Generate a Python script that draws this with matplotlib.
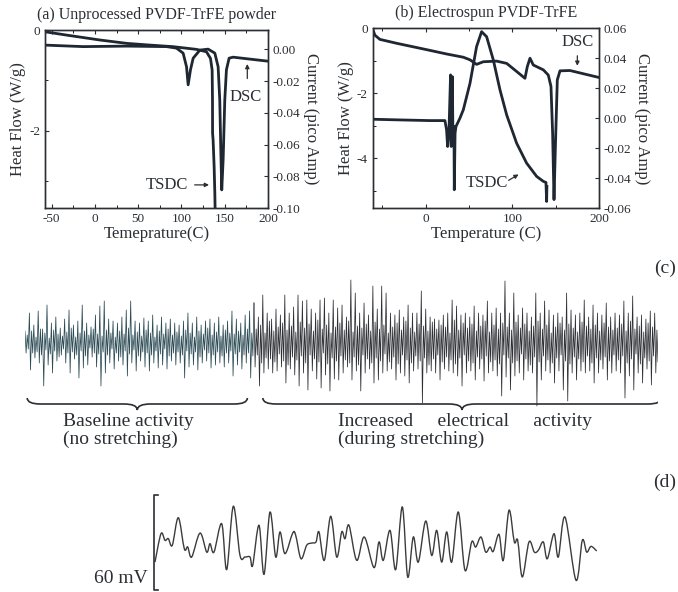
import numpy as np
import matplotlib.pyplot as plt
from matplotlib.path import Path
from matplotlib.patches import PathPatch

plt.rcParams['font.family'] = ['Liberation Serif', 'DejaVu Serif']
plt.rcParams['axes.unicode_minus'] = False

INK = '#2b2e33'
LINE = '#1f2733'

# (a) unprocessed powder
temp_a_dsc = [-57.7, -13.5, 36.5, 82.7, 94.2, 101.9, 105.8, 107.7, 110.4, 113.5, 121.2,
              130.8, 138.5, 142.3, 144.2, 145.4, 146.5, 148.1, 150.0, 151.9, 155.0, 159.6, 200.0]
heat_a_dsc = [-0.30, -0.33, -0.32, -0.33, -0.36, -0.46, -0.73, -1.09, -0.79, -0.56, -0.40,
              -0.38, -0.46, -0.73, -1.39, -2.38, -3.18, -2.58, -1.39, -0.79, -0.56, -0.54, -0.62]
temp_a_tsdc = [-57.7, -32.7, 5.8, 36.5, 63.5, 90.4, 117.3, 128.8, 133.5, 135.4, 135.8,
               135.9, 136.5, 137.7, 138.5, 138.8]
curr_a_tsdc = [0.0111, 0.0090, 0.0059, 0.0038, 0.0027, 0.0017, 0.0, -0.0015, -0.0057, -0.0130,
               -0.0319, -0.0528, -0.0570, -0.0738, -0.0906, -0.1]

# (b) electrospun
temp_b_dsc = [-61.2, -58.5, -52.7, -33.5, 0, 24.2, 43.5, 51.2, 58.8, 66.5, 81.9, 93.5, 105,
              114.6, 117.3, 120.4, 124.2, 135.8, 141.5, 144.6, 146.5, 148.1, 149.6, 151.9,
              155, 166.5, 199.2]
heat_b_dsc = [0, -0.21, -0.34, -0.46, -0.65, -0.79, -0.89, -0.97, -1.11, -1.03, -1.01, -1.08,
              -1.33, -1.54, -1.18, -0.92, -1.13, -1.28, -1.44, -1.79, -3.23, -5.28, -3.74,
              -1.59, -1.31, -1.30, -1.51]
temp_b_tsdc = [-61.2, -33.5, 5, 22.3, 24.2, 25.4, 26.9, 28.8, 29.6, 30.8, 31.6, 32.7, 33.1,
               34.0, 35, 39.6, 43.5, 51.2, 58.8, 64.6, 70.4, 78.1, 85.8, 93.5, 105, 116.5,
               128.1, 135.8, 138.8, 139.6, 139.9]
curr_b_tsdc = [-0.0007, -0.0011, -0.0016, -0.0016, -0.0078, -0.0189, -0.0100, 0.0289,
               -0.0189, 0.0278, -0.0144, -0.0056, -0.0478, -0.0100, -0.0056, 0.0, 0.0056,
               0.0233, 0.0478, 0.0578, 0.0544, 0.0389, 0.0189, 0.0022, -0.0167, -0.0300,
               -0.0389, -0.0422, -0.0429, -0.0556, -0.0456]

# (c) recorded activity (arb. units): large excursions and the dense core in between
spikes_c = [
    12, -10, 30, -27, 18, -15, 32, -20, 14, -43, 38, -22, 20, -30, 26, -18, 15, -12, 24, -20,
    33, -30, 18, -16, 22, -35, 38, -25, 20, -22, 16, -14, 28, -24, 37, -43, 42, -30, 24, -20,
    22, -26, 20, -18, 26, -22, 33, -33, 42, -20, 22, -28, 20, -18, 25, -24, 22, -28, 28, -20,
    18, -25, 26, -22, 20, -26, 24, -18, 20, -22,
    18, -20, 22, -35, 30, -24, 20, -22, 26, -27, 18, -20, 22, -18, 24, -25, 20, -22, 26, -20,
    18, -24, 22, -20, 32, -33, 24, -22, 20, -26, 28, -20, 32, -35, 40, -24, 26, -43, 48, -30,
    30, -26, 24, -30, 34, -28, 28, -24, 48, -40, 30, -26, 36, -32, 48, -43, 42, -30, 43, -47,
    34, -28, 30, -36, 43, -45, 45, -32, 30, -48, 43, -36, 35, -37,
    38, -30, 26, -24, 63, -37, 50, -28, 30, -48, 40, -30, 28, -26, 57, -40, 34, -37, 57, -30,
    50, -28, 30, -26, 28, -37, 33, -30, 26, -33, 38, -40, 30, -28, 30, -26, 52, -60, 34, -30,
    26, -28, 24, -30, 23, -37, 28, -26, 30, -28, 43, -30, 37, -33, 28, -43, 30, -30, 26, -28,
    37, -37, 30, -26, 28, -38, 42, -30, 30, -28, 35, -33,
    30, -53, 62, -34, 30, -47, 50, -33, 28, -30, 35, -37, 30, -28, 26, -30, 50, -63, 30, -37,
    42, -28, 33, -30, 28, -40, 30, -28, 26, -47, 50, -58, 33, -30, 28, -37, 30, -28, 43, -30,
    26, -28, 38, -40, 30, -30, 28, -26, 40, -37, 26, -30, 30, -28, 28, -30, 42, -55, 30, -33,
    47, -47, 26, -30, 28, -40, 24, -26, 32, -42, 30, -30,
]
core_c = [
    8, -6, 12, -10, 6, -9, 14, -12, 10, -7, 5, -11, 13, -8, 9, -14, 7, -6, 11, -10, 15, -9,
    6, -12, 10, -8, 12, -13, 8, -5, 14, -10, 9, -11, 7, -9, 13, -12, 10, -6, 6, -10, 12, -14,
    9, -8, 15, -11, 8, -7, 11, -13,
    7, -9, 13, -10, 10, -12, 6, -8, 12, -11, 9, -6, 14, -13, 8, -10, 11, -9, 7, -12, 13, -8,
    10, -11, 6, -9, 12, -14, 9, -7, 15, -10, 8, -12, 11, -9, 7, -13, 13, -10, 10, -8, 9, -11,
    12, -9, 8, -12, 14, -10, 10, -13,
    14, -12, 18, -20, 10, -15, 22, -16, 12, -19, 16, -11, 20, -18, 13, -22, 17, -14, 11, -17,
    21, -13, 15, -20, 19, -12, 12, -16, 23, -19, 14, -10, 18, -21, 10, -15, 16, -18, 20, -13,
    13, -17, 22, -20, 11, -14, 17, -22, 15, -12, 19, -16, 12, -20, 21, -15, 14, -18, 18, -11,
    10, -19,
    16, -14, 20, -21, 13, -12, 22, -17, 15, -20, 11, -13, 19, -18, 17, -15, 12, -22, 21, -16,
    14, -12, 18, -19, 16, -14, 10, -17, 23, -21, 13, -15, 20, -12, 15, -18, 19, -20, 12, -14,
    17, -16, 22, -13,
    11, -19, 18, -17, 14, -21, 20, -12, 16, -15, 13, -20, 21, -18, 15, -11, 19, -16, 12, -22,
    17, -14, 22, -19, 14, -13, 18, -17, 10, -20, 16, -15, 20, -12, 13, -18, 19, -21, 15, -14,
    11, -16, 21, -19, 17, -13, 14, -20, 18, -15, 12, -17, 20, -14, 16, -18, 13, -12,
    15, -17, 19, -13, 12, -20, 22, -16, 14, -11, 17, -21, 11, -15, 20, -18, 16, -13, 13, -19,
]
baseline_pairs = 52

# (d) single trace, mV
time_d = [0, 6, 10, 13.3, 17.3, 23.3, 29.3, 32.7, 36.7, 45, 51.7, 55, 59, 66.7, 71.7, 78.3,
          85, 90, 95, 97.7, 104, 109, 115, 120.7, 125, 130, 137.7, 140.7, 146, 151.7, 156.7,
          161, 164, 169.3, 175.7, 181.7, 186.7, 190, 194, 201.7, 209.3, 219, 224, 228.3, 235,
          240.7, 247.3, 252.7, 258.3, 263.3, 270.7, 276.7, 281.7, 286.7, 291.7, 296.7, 303.3,
          310, 316.7, 320.7, 326, 330.7, 335, 338.3, 344, 348.3, 354, 359.3, 362.7, 367.3, 374,
          379.3, 383.3, 388.3, 392.3, 399, 403.3, 410, 421, 427.3, 431.7, 436, 441.7]
volt_d = [-9.5, 8.4, 4.2, 5.3, 1.1, 18.5, -1.1, 0, -6.3, 8.8, -3.2, 2.1, -3.2, 14.7, -14.3,
          25.7, -5.3, -6.3, -6.3, -11.6, 13.7, -17.3, 22.1, -6.3, 9.5, -4.2, 8.8, 7.4, -7.4,
          1.1, 2.5, 3.2, 9.5, -8.4, 19.4, -6.3, 9.5, 5.3, 13.7, -8.4, 6.3, -13, 3.2, -8.4,
          10.5, -14.3, 25.3, -18.9, 6.3, -9.5, 16.4, -5.3, 10.5, -9.5, 9.5, -9.5, 22.1, -14.7,
          3.2, 0, 6.3, -3.2, 0, -2.7, 8.0, -8.4, 23.2, 3.2, 4.2, -18.9, 3.2, -3.2, -2.1, 3.2,
          -7.4, 8.4, -6.3, 18.9, -21, 4.2, -3.2, 0.4, -2.5]
scale_bar_mv = 60


def style_axes(ax, ax2):
    for a in (ax, ax2):
        for s in a.spines.values():
            s.set_color(INK)
            s.set_linewidth(1.0)
        a.tick_params(colors=INK, labelsize=9.5, direction='in', length=3)
        a.tick_params(which='minor', direction='in', length=2)
    ax.tick_params(top=True, which='both')


def brace(ax, x0, x1, y, h, a):
    xm = (x0 + x1) / 2
    verts = [(x0, y + h), (x0, y), (x0 + a, y), (xm - a, y), (xm, y), (xm, y - h),
             (xm, y), (xm + a, y), (x1 - a, y), (x1, y), (x1, y + h)]
    codes = [Path.MOVETO, Path.CURVE3, Path.CURVE3, Path.LINETO, Path.CURVE3, Path.CURVE3,
             Path.CURVE3, Path.CURVE3, Path.LINETO, Path.CURVE3, Path.CURVE3]
    ax.add_patch(PathPatch(Path(verts, codes), fill=False, color=INK, lw=1.2))


def smooth_trace(x, y):
    # smooth path through every sample (Catmull-Rom drawn as cubic Beziers)
    pts = np.column_stack([x, y]).astype(float)
    verts = [pts[0]]
    codes = [Path.MOVETO]
    for i in range(len(pts) - 1):
        p0 = pts[max(i - 1, 0)]
        p1 = pts[i]
        p2 = pts[i + 1]
        p3 = pts[min(i + 2, len(pts) - 1)]
        verts += [p1 + (p2 - p0) / 6, p2 - (p3 - p1) / 6, p2]
        codes += [Path.CURVE4] * 3
    return Path(verts, codes)


fig = plt.figure(figsize=(6.78, 5.92), dpi=100)

# ---- (a)
ax_a = fig.add_axes([0.0664, 0.6486, 0.329, 0.3007])
ax_a2 = ax_a.twinx()
ax_a.plot(temp_a_dsc, heat_a_dsc, color=LINE, lw=2)
ax_a2.plot(temp_a_tsdc, curr_a_tsdc, color=LINE, lw=2)
ax_a.set_xlim(-57.6, 200)
ax_a.set_ylim(-3.54, 0)
ax_a2.set_ylim(-0.1, 0.0122)
ax_a.set_xticks([-50, 0, 50, 100, 150, 200])
ax_a.set_xticks([-25, 25, 75, 125, 175], minor=True)
ax_a.set_yticks([0, -2])
ax_a.set_yticks([-1, -3], minor=True)
ax_a2.set_yticks([0.0, -0.02, -0.04, -0.06, -0.08, -0.10])
ax_a2.yaxis.set_major_formatter(plt.FormatStrFormatter('%.2f'))
style_axes(ax_a, ax_a2)
ax_a.set_title('(a) Unprocessed PVDF-TrFE powder', fontsize=11.5, color=INK, pad=8)
ax_a.set_xlabel('Temeprature(C)', fontsize=12, color=INK, labelpad=1)
ax_a.set_ylabel('Heat Flow (W/g)', fontsize=12, color=INK, labelpad=2)
ax_a2.set_ylabel('Current (pico Amp)', fontsize=12, color=INK, rotation=270, labelpad=13)
ax_a.text(174, -1.33, 'DSC', fontsize=12, color=INK, ha='center', va='center')
ax_a.annotate('', xy=(176, -0.62), xytext=(176, -1.02),
              arrowprops=dict(arrowstyle='-|>', color=INK, lw=0.9, mutation_scale=6))
ax_a.text(83, -3.08, 'TSDC', fontsize=12, color=INK, ha='center', va='center')
ax_a.annotate('', xy=(135, -3.08), xytext=(112, -3.08),
              arrowprops=dict(arrowstyle='-|>', color=INK, lw=0.9, mutation_scale=6))

# ---- (b)
ax_b = fig.add_axes([0.5497, 0.6486, 0.3338, 0.3035])
ax_b2 = ax_b.twinx()
ax_b.plot(temp_b_dsc, heat_b_dsc, color=LINE, lw=2)
ax_b2.plot(temp_b_tsdc, curr_b_tsdc, color=LINE, lw=2)
ax_b.set_xlim(-61, 200)
ax_b.set_ylim(-5.54, 0)
ax_b2.set_ylim(-0.06, 0.06)
ax_b.set_xticks([0, 100, 200])
ax_b.set_xticks([-50, 50, 150], minor=True)
ax_b.set_yticks([0, -2, -4])
ax_b.set_yticks([-1, -3, -5], minor=True)
ax_b2.set_yticks([0.06, 0.04, 0.02, 0.0, -0.02, -0.04, -0.06])
ax_b2.yaxis.set_major_formatter(plt.FormatStrFormatter('%.2f'))
style_axes(ax_b, ax_b2)
ax_b.set_title('(b) Electrospun PVDF-TrFE', fontsize=11.5, color=INK, pad=8)
ax_b.set_xlabel('Temperature (C)', fontsize=12, color=INK, labelpad=1)
ax_b.set_ylabel('Heat Flow (W/g)', fontsize=12, color=INK, labelpad=2)
ax_b2.set_ylabel('Current (pico Amp)', fontsize=12, color=INK, rotation=270, labelpad=13)
ax_b.text(175, -0.42, 'DSC', fontsize=12, color=INK, ha='center', va='center')
ax_b.annotate('', xy=(175, -1.24), xytext=(175, -0.76),
              arrowprops=dict(arrowstyle='-|>', color=INK, lw=0.9, mutation_scale=6))
ax_b.text(71, -4.76, 'TSDC', fontsize=12, color=INK, ha='center', va='center')
ax_b.annotate('', xy=(110, -4.46), xytext=(93, -4.73),
              arrowprops=dict(arrowstyle='-|>', color=INK, lw=0.9, mutation_scale=6))

# ---- (c)
sp = np.array(spikes_c, dtype=float).reshape(-1, 2)
co = np.array(core_c, dtype=float).reshape(-1, 2)
n_pairs = min(len(sp), len(co))
sig = np.hstack([sp[:n_pairs], co[:n_pairs]]).ravel()
n_c = len(sig)
idx_c = np.arange(n_c)
split = 4 * baseline_pairs
ax_c = fig.add_axes([25 / 678, 1 - 460 / 592, 633 / 678, 190 / 592])
ax_c.plot(idx_c[:split + 1], sig[:split + 1], color='#2c4b55', lw=0.55)
ax_c.plot(idx_c[split:], sig[split:], color='#2e2f35', lw=0.55)
ax_c.set_xlim(0, n_c - 1)
ax_c.set_ylim(-117, 73)
ax_c.axis('off')
brace(ax_c, 2, split - 6, -61, 6, 12)
brace(ax_c, split + 8, n_c + 2, -61, 6, 12)
ax_c.text(0.0605, 0.25, 'Baseline activity\n(no stretching)', transform=ax_c.transAxes,
          fontsize=14, color=INK, ha='left', va='top', linespacing=1.1)
ax_c.text(0.494, 0.25, 'Increased     electrical     activity\n(during stretching)',
          transform=ax_c.transAxes, fontsize=14, color=INK, ha='left', va='top',
          linespacing=1.1)
fig.text(0.981, 1 - 268 / 592, '(c)', fontsize=14, color=INK, ha='center', va='center')

# ---- (d)
ax_d = fig.add_axes([150 / 678, 0.0, 460 / 678, 102 / 592])
ax_d.add_patch(PathPatch(smooth_trace(time_d, volt_d), fill=False, color='#3c3c3c', lw=1.0))
bar_lo = -27.2
ax_d.plot([3, -1, -1, 3], [bar_lo, bar_lo, bar_lo + scale_bar_mv, bar_lo + scale_bar_mv],
          color=INK, lw=1.2, clip_on=False)
ax_d.text(-7, -19.6, f'{scale_bar_mv} mV', fontsize=14, color=INK, ha='right', va='center')
ax_d.set_xlim(-5, 455)
ax_d.set_ylim(-28.4, 36)
ax_d.axis('off')
fig.text(0.981, 1 - 482 / 592, '(d)', fontsize=14, color=INK, ha='center', va='center')

fig.savefig('out.png', dpi=100)
